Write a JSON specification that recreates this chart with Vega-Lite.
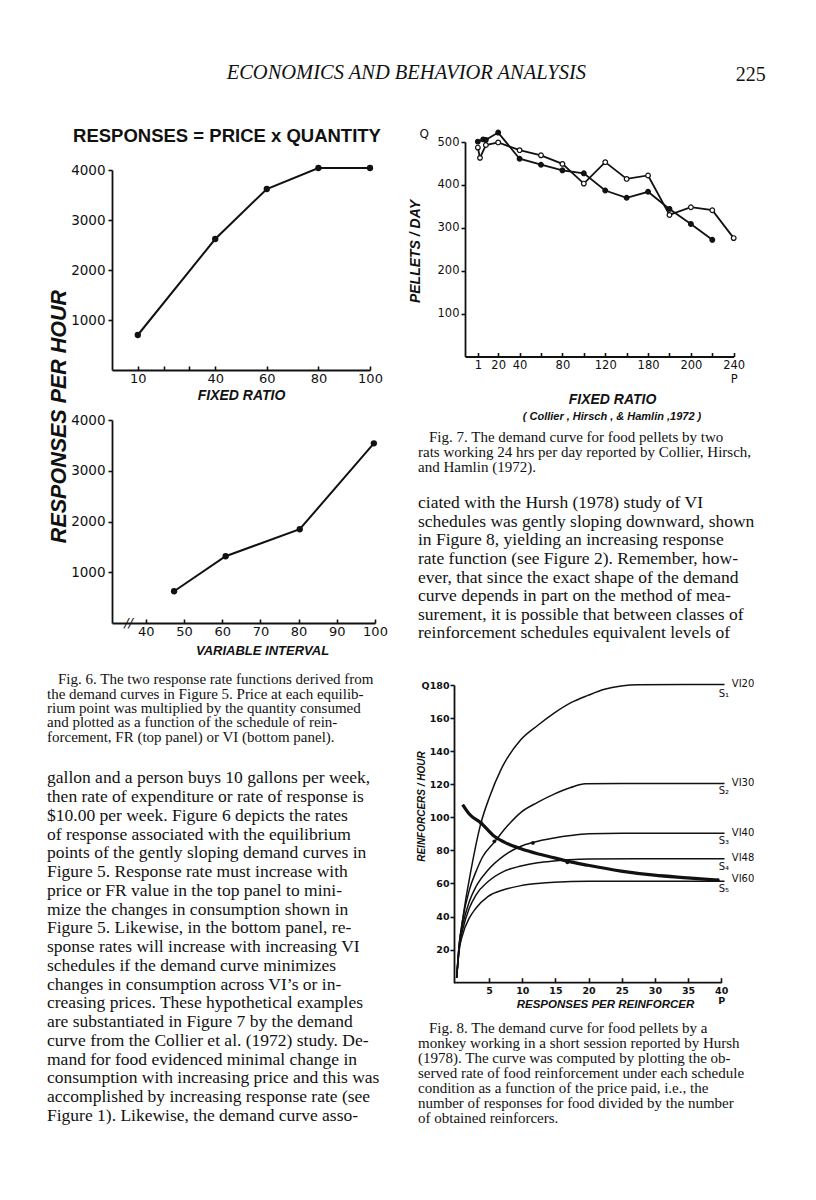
{
"$schema":"https://vega.github.io/schema/vega-lite/v6.json",
"background":"white",
"padding":{"left":47,"top":63,"right":5,"bottom":5},
"title":{"text":"ECONOMICS AND BEHAVIOR ANALYSIS","font":"Liberation Serif","fontSize":20.5,"fontStyle":"italic","fontWeight":"normal","color":"#111","anchor":"middle","frame":"bounds","offset":-19,"dx":0},
"config":{
 "view":{"stroke":null},
 "axis":{"grid":false,"domainColor":"#111","tickColor":"#111","labelColor":"#111","titleColor":"#111","domainWidth":1.8,"tickWidth":1.6,"labelFont":"DejaVu Sans","titleFont":"Liberation Sans Narrow, Liberation Sans, sans-serif","titleFontWeight":"bold","titleFontStyle":"italic","labelFlush":false,"labelOverlap":false,"labelBound":false}
},
"datasets":{
 "fig6fr":[{"fr":10,"responses":700},{"fr":40,"responses":2620},{"fr":60,"responses":3620},{"fr":80,"responses":4040},{"fr":100,"responses":4040}],
 "fig6vi":[{"vi":47.4,"responses":625},{"vi":60.9,"responses":1315},{"vi":80.3,"responses":1848},{"vi":99.7,"responses":3540}],
 "fig7":[
  {"rat":"filled","fr":1,"pellets":501},{"rat":"filled","fr":6,"pellets":506},{"rat":"filled","fr":8.5,"pellets":505},{"rat":"filled","fr":20,"pellets":522},{"rat":"filled","fr":40,"pellets":461},{"rat":"filled","fr":60,"pellets":447},{"rat":"filled","fr":80,"pellets":434},{"rat":"filled","fr":100,"pellets":427},{"rat":"filled","fr":120,"pellets":387},{"rat":"filled","fr":140,"pellets":370},{"rat":"filled","fr":160,"pellets":384},{"rat":"filled","fr":180,"pellets":344},{"rat":"filled","fr":200,"pellets":309},{"rat":"filled","fr":220,"pellets":272},
  {"rat":"open","fr":1,"pellets":487},{"rat":"open","fr":3,"pellets":463},{"rat":"open","fr":8.5,"pellets":493},{"rat":"open","fr":20,"pellets":499},{"rat":"open","fr":40,"pellets":481},{"rat":"open","fr":60,"pellets":469},{"rat":"open","fr":80,"pellets":449},{"rat":"open","fr":100,"pellets":403},{"rat":"open","fr":120,"pellets":453},{"rat":"open","fr":140,"pellets":414},{"rat":"open","fr":160,"pellets":422},{"rat":"open","fr":180,"pellets":330},{"rat":"open","fr":200,"pellets":348},{"rat":"open","fr":220,"pellets":341},{"rat":"open","fr":240,"pellets":276}
 ],
 "fig8curves":[
  {"schedule":"VI20","price":0.1,"rate":3},{"schedule":"VI20","price":0.5,"rate":22},{"schedule":"VI20","price":1,"rate":38},{"schedule":"VI20","price":2.26,"rate":68},{"schedule":"VI20","price":3.77,"rate":96.6},{"schedule":"VI20","price":5.03,"rate":112},{"schedule":"VI20","price":6.8,"rate":129},{"schedule":"VI20","price":9.8,"rate":147},{"schedule":"VI20","price":12.3,"rate":155.5},{"schedule":"VI20","price":14.8,"rate":163},{"schedule":"VI20","price":17.35,"rate":169.3},{"schedule":"VI20","price":19.9,"rate":173.7},{"schedule":"VI20","price":22.4,"rate":177.4},{"schedule":"VI20","price":24.9,"rate":179.4},{"schedule":"VI20","price":27.4,"rate":180.2},{"schedule":"VI20","price":40.5,"rate":180.3},
  {"schedule":"VI30","price":0.1,"rate":3},{"schedule":"VI30","price":0.5,"rate":24},{"schedule":"VI30","price":1,"rate":38},{"schedule":"VI30","price":2,"rate":56},{"schedule":"VI30","price":3,"rate":67},{"schedule":"VI30","price":4,"rate":76},{"schedule":"VI30","price":5.78,"rate":85},{"schedule":"VI30","price":7.8,"rate":95},{"schedule":"VI30","price":9.8,"rate":103},{"schedule":"VI30","price":12.3,"rate":109},{"schedule":"VI30","price":14.8,"rate":114},{"schedule":"VI30","price":17.3,"rate":118},{"schedule":"VI30","price":19.5,"rate":120.3},{"schedule":"VI30","price":25,"rate":120.5},{"schedule":"VI30","price":40.5,"rate":120.5},
  {"schedule":"VI40","price":0.1,"rate":3},{"schedule":"VI40","price":0.5,"rate":24},{"schedule":"VI40","price":1,"rate":35},{"schedule":"VI40","price":2,"rate":49},{"schedule":"VI40","price":3,"rate":58},{"schedule":"VI40","price":4.8,"rate":68},{"schedule":"VI40","price":7.3,"rate":77},{"schedule":"VI40","price":9.8,"rate":82.5},{"schedule":"VI40","price":11.6,"rate":84.8},{"schedule":"VI40","price":14.8,"rate":87.5},{"schedule":"VI40","price":17.3,"rate":89},{"schedule":"VI40","price":20,"rate":90},{"schedule":"VI40","price":25,"rate":90.3},{"schedule":"VI40","price":40.5,"rate":90.3},
  {"schedule":"VI48","price":0.1,"rate":3},{"schedule":"VI48","price":0.5,"rate":22},{"schedule":"VI48","price":1,"rate":32},{"schedule":"VI48","price":2,"rate":45},{"schedule":"VI48","price":3,"rate":53},{"schedule":"VI48","price":4.8,"rate":61},{"schedule":"VI48","price":7.3,"rate":67.5},{"schedule":"VI48","price":9.8,"rate":70.5},{"schedule":"VI48","price":12.3,"rate":72.5},{"schedule":"VI48","price":14.8,"rate":73.6},{"schedule":"VI48","price":17,"rate":74.3},{"schedule":"VI48","price":20,"rate":74.8},{"schedule":"VI48","price":40.5,"rate":75},
  {"schedule":"VI60","price":0.1,"rate":3},{"schedule":"VI60","price":0.5,"rate":20},{"schedule":"VI60","price":1,"rate":29},{"schedule":"VI60","price":2,"rate":39},{"schedule":"VI60","price":3,"rate":45},{"schedule":"VI60","price":4.8,"rate":52},{"schedule":"VI60","price":7.3,"rate":56.3},{"schedule":"VI60","price":9.8,"rate":58.7},{"schedule":"VI60","price":12.3,"rate":60},{"schedule":"VI60","price":14.8,"rate":60.8},{"schedule":"VI60","price":20,"rate":61.3},{"schedule":"VI60","price":40.5,"rate":61.4}
 ],
 "fig8demand":[{"price":1,"rate":107.7},{"price":2,"rate":102},{"price":3.77,"rate":96.6},{"price":5.78,"rate":88.5},{"price":7.8,"rate":84},{"price":9.8,"rate":81},{"price":12.3,"rate":78},{"price":14.84,"rate":75.5},{"price":16.8,"rate":73.5},{"price":19.9,"rate":71},{"price":24.9,"rate":67.5},{"price":29.9,"rate":65},{"price":34.9,"rate":63.4},{"price":39.5,"rate":62}],
 "fig8points":[{"price":3.77,"rate":96.6},{"price":5.78,"rate":85.5},{"price":11.6,"rate":84.5},{"price":16.8,"rate":72.8},{"price":39.5,"rate":62}],
 "fig8axis":[{"price":-0.3,"price_end":40,"rate":0}],
 "fig8labels":[
  {"kind":"vi","label":"VI20","price":41.6,"rate":180.5},{"kind":"vi","label":"VI30","price":41.6,"rate":121},{"kind":"vi","label":"VI40","price":41.6,"rate":90.5},{"kind":"vi","label":"VI48","price":41.6,"rate":75.5},{"kind":"vi","label":"VI60","price":41.6,"rate":62.4},
  {"kind":"s","label":"S₁","price":40.4,"rate":174.5},{"kind":"s","label":"S₂","price":40.4,"rate":116},{"kind":"s","label":"S₃","price":40.4,"rate":85.8},{"kind":"s","label":"S₄","price":40.4,"rate":70},{"kind":"s","label":"S₅","price":40.4,"rate":56.7}
 ],
 "cap6":[
  {"line":1,"text":"Fig. 6. The two response rate functions derived from"},
  {"line":2,"text":"the demand curves in Figure 5. Price at each equilib-"},
  {"line":3,"text":"rium point was multiplied by the quantity consumed"},
  {"line":4,"text":"and plotted as a function of the schedule of rein-"},
  {"line":5,"text":"forcement, FR (top panel) or VI (bottom panel)."}
 ],
 "bodyL":[
  {"line":1,"text":"gallon and a person buys 10 gallons per week,"},
  {"line":2,"text":"then rate of expenditure or rate of response is"},
  {"line":3,"text":"$10.00 per week. Figure 6 depicts the rates"},
  {"line":4,"text":"of response associated with the equilibrium"},
  {"line":5,"text":"points of the gently sloping demand curves in"},
  {"line":6,"text":"Figure 5. Response rate must increase with"},
  {"line":7,"text":"price or FR value in the top panel to mini-"},
  {"line":8,"text":"mize the changes in consumption shown in"},
  {"line":9,"text":"Figure 5. Likewise, in the bottom panel, re-"},
  {"line":10,"text":"sponse rates will increase with increasing VI"},
  {"line":11,"text":"schedules if the demand curve minimizes"},
  {"line":12,"text":"changes in consumption across VI’s or in-"},
  {"line":13,"text":"creasing prices. These hypothetical examples"},
  {"line":14,"text":"are substantiated in Figure 7 by the demand"},
  {"line":15,"text":"curve from the Collier et al. (1972) study. De-"},
  {"line":16,"text":"mand for food evidenced minimal change in"},
  {"line":17,"text":"consumption with increasing price and this was"},
  {"line":18,"text":"accomplished by increasing response rate (see"},
  {"line":19,"text":"Figure 1). Likewise, the demand curve asso-"}
 ],
 "cap7":[
  {"line":1,"text":"Fig. 7. The demand curve for food pellets by two"},
  {"line":2,"text":"rats working 24 hrs per day reported by Collier, Hirsch,"},
  {"line":3,"text":"and Hamlin (1972)."}
 ],
 "bodyR":[
  {"line":1,"text":"ciated with the Hursh (1978) study of VI"},
  {"line":2,"text":"schedules was gently sloping downward, shown"},
  {"line":3,"text":"in Figure 8, yielding an increasing response"},
  {"line":4,"text":"rate function (see Figure 2). Remember, how-"},
  {"line":5,"text":"ever, that since the exact shape of the demand"},
  {"line":6,"text":"curve depends in part on the method of mea-"},
  {"line":7,"text":"surement, it is possible that between classes of"},
  {"line":8,"text":"reinforcement schedules equivalent levels of"}
 ],
 "cap8":[
  {"line":1,"text":"Fig. 8. The demand curve for food pellets by a"},
  {"line":2,"text":"monkey working in a short session reported by Hursh"},
  {"line":3,"text":"(1978). The curve was computed by plotting the ob-"},
  {"line":4,"text":"served rate of food reinforcement under each schedule"},
  {"line":5,"text":"condition as a function of the price paid, i.e., the"},
  {"line":6,"text":"number of responses for food divided by the number"},
  {"line":7,"text":"of obtained reinforcers."}
 ]
},
"hconcat":[
 {"vconcat":[
  {"width":1,"height":27.5,"data":{"values":[{"s":""}]},"mark":{"type":"text"},"encoding":{"text":{"field":"s"}}},
  {"width":258,"height":200,
   "title":{"text":"RESPONSES = PRICE x QUANTITY","font":"Liberation Sans","fontSize":18.5,"fontWeight":"bold","color":"#111","anchor":"middle","dx":-14,"offset":18},
   "data":{"name":"fig6fr"},
   "encoding":{
    "x":{"field":"fr","type":"quantitative","scale":{"domain":[0,100],"nice":false,"zero":false},
     "axis":{"values":[10,20,30,40,60,80,100],"labelExpr":"datum.value==20||datum.value==30?'':datum.label","tickSize":-4,"labelPadding":6,"labelFontSize":13,"title":"FIXED RATIO","titleFontSize":14,"titleX":129,"titleY":25,"titleBaseline":"middle"}},
    "y":{"field":"responses","type":"quantitative","scale":{"domain":[0,4000],"nice":false},
     "axis":{"values":[1000,2000,3000,4000],"format":"d","tickSize":4,"labelPadding":3,"labelFontSize":13.5,"title":"RESPONSES PER HOUR","titleFontSize":21.5,"titleX":-53,"titleY":246,"titleBaseline":"middle","titleAlign":"center","titleAngle":-90}}
   },
   "layer":[
    {"mark":{"type":"line","color":"#111","strokeWidth":2}},
    {"mark":{"type":"point","filled":true,"color":"#111","size":40,"opacity":1}}
   ]},
  {"width":1,"height":50,"data":{"values":[{"s":""}]},"mark":{"type":"text"},"encoding":{"text":{"field":"s"}}},
  {"width":263,"height":203,
   "encoding":{
    "x":{"field":"vi","type":"quantitative","scale":{"domain":[31.15,100],"nice":false,"zero":false},
     "axis":{"values":[40,50,60,70,80,90,100],"tickSize":-4,"labelPadding":6,"labelFontSize":13,"title":"VARIABLE INTERVAL","titleFontSize":13,"titleX":150,"titleY":27,"titleBaseline":"middle"}},
    "y":{"field":"responses","type":"quantitative","scale":{"domain":[0,4000],"nice":false},
     "axis":{"values":[1000,2000,3000,4000],"format":"d","tickSize":4,"labelPadding":3,"labelFontSize":13.5,"title":null}}
   },
   "layer":[
    {"data":{"name":"fig6vi"},"mark":{"type":"line","color":"#111","strokeWidth":2}},
    {"data":{"name":"fig6vi"},"mark":{"type":"point","filled":true,"color":"#111","size":40,"opacity":1}},
    {"data":{"values":[{"vi":35.5,"responses":0,"label":"//"}]},"mark":{"type":"text","font":"DejaVu Sans","fontSize":13,"fontStyle":"italic","align":"center","baseline":"middle","color":"#111"},"encoding":{"text":{"field":"label"}}}
   ]},
  {"width":1,"height":48.8,"data":{"values":[{"s":""}]},"mark":{"type":"text"},"encoding":{"text":{"field":"s"}}},
  {"width":260,"height":72,"data":{"name":"cap6"},
   "encoding":{"y":{"field":"line","type":"quantitative","scale":{"domain":[0.5,5.5],"reverse":true,"nice":false,"zero":false},"axis":null},"x":{"value":0},"text":{"field":"text"}},
   "layer":[
    {"transform":[{"filter":"datum.line==1"}],"mark":{"type":"text","align":"left","baseline":"middle","font":"Liberation Serif","fontSize":15,"color":"#111","dx":-54}},
    {"transform":[{"filter":"datum.line>1"}],"mark":{"type":"text","align":"left","baseline":"middle","font":"Liberation Serif","fontSize":15,"color":"#111","dx":-65}}
   ]},
  {"width":1,"height":24.8,"data":{"values":[{"s":""}]},"mark":{"type":"text"},"encoding":{"text":{"field":"s"}}},
  {"width":260,"height":356.25,"data":{"name":"bodyL"},
   "mark":{"type":"text","align":"left","baseline":"middle","font":"Liberation Serif","fontSize":17.5,"color":"#111","dx":-65},
   "encoding":{"y":{"field":"line","type":"quantitative","scale":{"domain":[0.5,19.5],"reverse":true,"nice":false,"zero":false},"axis":null},"x":{"value":0},"text":{"field":"text"}}}
 ],"spacing":0,"bounds":"flush"},
 {"vconcat":[
  {"width":268.7,"height":214.5,
   "title":{"text":"225","font":"Liberation Serif","fontSize":20,"fontWeight":"normal","color":"#111","anchor":"end","dx":21,"offset":43},
   "encoding":{
    "x":{"field":"fr","type":"quantitative","scale":{"domain":[-11,240],"nice":false,"zero":false},
     "axis":{"values":[1,20,40,60,80,100,120,140,160,180,200,220,240],"labelExpr":"datum.value==160?'180':datum.value==240?['240','P']:(datum.value==60||datum.value==100||datum.value==140||datum.value==180||datum.value==220)?'':datum.label","tickSize":-4,"labelPadding":7,"labelFontSize":11.5,"labelLineHeight":14,"title":"FIXED RATIO","titleFontSize":14,"titleX":147,"titleY":43,"titleBaseline":"middle"}},
    "y":{"field":"pellets","type":"quantitative","scale":{"domain":[0,500],"nice":false},
     "axis":{"values":[100,200,300,400,500],"tickSize":4,"labelPadding":2,"labelFontSize":11.5,"title":"PELLETS / DAY","titleFontSize":14,"titleX":-50,"titleY":109,"titleBaseline":"middle","titleAlign":"center","titleAngle":-90}}
   },
   "layer":[
    {"data":{"name":"fig7"},"mark":{"type":"line","color":"#111","strokeWidth":1.8},"encoding":{"detail":{"field":"rat"}}},
    {"data":{"name":"fig7"},"mark":{"type":"point","filled":true,"stroke":"#111","strokeWidth":1.2,"size":22,"opacity":1},"encoding":{"fill":{"field":"rat","type":"nominal","scale":{"domain":["filled","open"],"range":["#111111","#ffffff"]},"legend":null}}},
    {"data":{"values":[{"fr":-49,"pellets":518,"label":"Q"}]},"mark":{"type":"text","font":"DejaVu Sans","fontSize":12,"align":"center","baseline":"middle","color":"#111"},"encoding":{"text":{"field":"label"}}}
   ]},
  {"width":1,"height":72.9,"data":{"values":[{"s":""}]},"mark":{"type":"text"},"encoding":{"text":{"field":"s"}}},
  {"width":268,"height":44.4,"data":{"name":"cap7"},
   "title":{"text":"( Collier , Hirsch , & Hamlin ,1972 )","font":"Liberation Sans Narrow, Liberation Sans, sans-serif","fontSize":11,"fontWeight":"bold","fontStyle":"italic","color":"#111","anchor":"middle","dx":13,"offset":8},
   "encoding":{"y":{"field":"line","type":"quantitative","scale":{"domain":[0.5,3.5],"reverse":true,"nice":false,"zero":false},"axis":null},"x":{"value":0},"text":{"field":"text"}},
   "layer":[
    {"transform":[{"filter":"datum.line==1"}],"mark":{"type":"text","align":"left","baseline":"middle","font":"Liberation Serif","fontSize":15,"color":"#111","dx":-36}},
    {"transform":[{"filter":"datum.line>1"}],"mark":{"type":"text","align":"left","baseline":"middle","font":"Liberation Serif","fontSize":15,"color":"#111","dx":-47}}
   ]},
  {"width":1,"height":18.1,"data":{"values":[{"s":""}]},"mark":{"type":"text"},"encoding":{"text":{"field":"s"}}},
  {"width":268,"height":148.56,"data":{"name":"bodyR"},
   "mark":{"type":"text","align":"left","baseline":"middle","font":"Liberation Serif","fontSize":17.5,"color":"#111","dx":-47},
   "encoding":{"y":{"field":"line","type":"quantitative","scale":{"domain":[0.5,8.5],"reverse":true,"nice":false,"zero":false},"axis":null},"x":{"value":0},"text":{"field":"text"}}},
  {"width":1,"height":41.3,"data":{"values":[{"s":""}]},"mark":{"type":"text"},"encoding":{"text":{"field":"s"}}},
  {"width":256.2,"height":297.7,
   "encoding":{
    "x":{"field":"price","type":"quantitative","scale":{"domain":[1.357,40],"nice":false,"zero":false},
     "axis":{"values":[5,10,15,20,25,30,35,40],"labelExpr":"datum.value==40?['40','P']:datum.label","domain":false,"tickSize":-5,"labelPadding":8,"labelFontSize":9.5,"labelFontWeight":"bold","labelLineHeight":10,"title":"RESPONSES PER REINFORCER","titleFontSize":11.5,"titleX":140,"titleY":22,"titleBaseline":"middle"}},
    "y":{"field":"rate","type":"quantitative","scale":{"domain":[0,180],"nice":false},
     "axis":{"values":[20,40,60,80,100,120,140,160,180],"labelExpr":"datum.value==180?'Q180':datum.label","offset":11,"tickSize":4,"labelPadding":1,"labelFontSize":9.5,"labelFontWeight":"bold","title":"REINFORCERS / HOUR","titleFontSize":10,"titleX":-33,"titleY":121,"titleBaseline":"middle","titleAlign":"center","titleAngle":-90}}
   },
   "layer":[
    {"data":{"name":"fig8axis"},"mark":{"type":"rule","color":"#111","strokeWidth":1.8},"encoding":{"x2":{"field":"price_end"}}},
    {"data":{"name":"fig8curves"},"mark":{"type":"line","color":"#111","strokeWidth":1.5,"interpolate":"monotone"},"encoding":{"detail":{"field":"schedule"}}},
    {"data":{"name":"fig8demand"},"mark":{"type":"line","color":"#111","strokeWidth":3.2,"interpolate":"monotone"}},
    {"data":{"name":"fig8points"},"mark":{"type":"point","filled":true,"color":"#111","size":14,"opacity":1}},
    {"data":{"name":"fig8labels"},"transform":[{"filter":"datum.kind=='vi'"}],"mark":{"type":"text","align":"left","baseline":"middle","font":"DejaVu Sans","fontSize":10,"color":"#111"},"encoding":{"text":{"field":"label"}}},
    {"data":{"name":"fig8labels"},"transform":[{"filter":"datum.kind=='s'"}],"mark":{"type":"text","align":"center","baseline":"middle","font":"DejaVu Sans","fontSize":10,"color":"#111"},"encoding":{"text":{"field":"label"}}}
   ]},
  {"width":1,"height":37.8,"data":{"values":[{"s":""}]},"mark":{"type":"text"},"encoding":{"text":{"field":"s"}}},
  {"width":268,"height":103.95,"data":{"name":"cap8"},
   "encoding":{"y":{"field":"line","type":"quantitative","scale":{"domain":[0.5,7.5],"reverse":true,"nice":false,"zero":false},"axis":null},"x":{"value":0},"text":{"field":"text"}},
   "layer":[
    {"transform":[{"filter":"datum.line==1"}],"mark":{"type":"text","align":"left","baseline":"middle","font":"Liberation Serif","fontSize":15,"color":"#111","dx":-36}},
    {"transform":[{"filter":"datum.line>1"}],"mark":{"type":"text","align":"left","baseline":"middle","font":"Liberation Serif","fontSize":15,"color":"#111","dx":-47}}
   ]}
 ],"spacing":0,"bounds":"flush"}
],
"spacing":20,
"bounds":"full"
}
